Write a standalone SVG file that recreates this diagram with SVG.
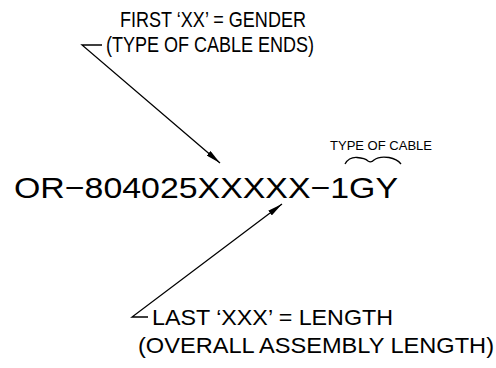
<svg xmlns="http://www.w3.org/2000/svg" width="496" height="368" viewBox="0 0 496 368">
<style>
text{font-family:"Liberation Sans",Arial,sans-serif;fill:#000}
.lbl{font-size:22px}
.main{font-size:30px}
.small{font-size:12px}
.ln{stroke:#000;stroke-width:1.3;fill:none}
</style>
<defs>
<marker id="ah" viewBox="0 0 15 6" refX="15" refY="3" markerWidth="15" markerHeight="6" markerUnits="userSpaceOnUse" orient="auto">
<path d="M0,0 L15,3 L0,6 Z" fill="#000"/>
</marker>
</defs>
<rect width="496" height="368" fill="#fff"/>
<g id="connectors">
<path class="ln" d="M102,45 L82,45 L220,163" marker-end="url(#ah)"/>
<path class="ln" d="M148,317 L132,317 L282,204" marker-end="url(#ah)"/>
<path class="ln" d="M345,164 Q349,157 357,157.5 Q365,158 368,161 Q371,163 374,160 Q379,156 389,157.5 Q397,159 401,164"/>
</g>
<g id="gender-label">
<text class="lbl" x="120" y="27" textLength="186" lengthAdjust="spacingAndGlyphs">FIRST ‘XX’ = GENDER</text>
<text class="lbl" x="106" y="52" textLength="208" lengthAdjust="spacingAndGlyphs">(TYPE OF CABLE ENDS)</text>
</g>
<g id="part-number">
<text class="main" x="14" y="198" textLength="384" lengthAdjust="spacingAndGlyphs">OR−804025XXXXX−1GY</text>
</g>
<g id="cable-type-label">
<text class="small" x="330" y="150" textLength="102" lengthAdjust="spacingAndGlyphs">TYPE OF CABLE</text>
</g>
<g id="length-label">
<text class="lbl" x="152" y="325" textLength="241" lengthAdjust="spacingAndGlyphs">LAST ‘XXX’ = LENGTH</text>
<text class="lbl" x="138" y="353" textLength="356" lengthAdjust="spacingAndGlyphs">(OVERALL ASSEMBLY LENGTH)</text>
</g>
</svg>
